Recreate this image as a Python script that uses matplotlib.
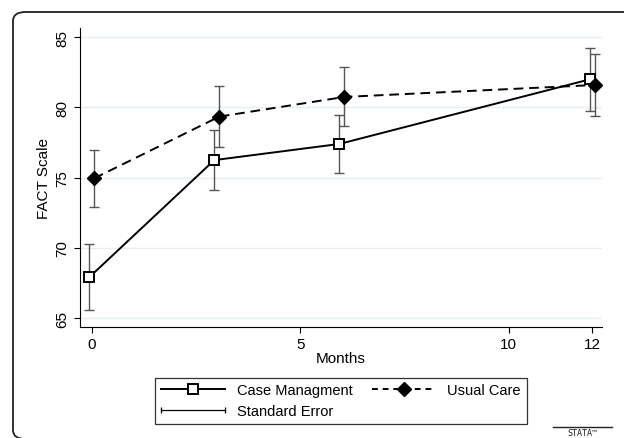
import matplotlib
matplotlib.use('Agg')
from matplotlib import pyplot as plt
from matplotlib.lines import Line2D
from matplotlib.patches import FancyBboxPatch
from matplotlib.legend_handler import HandlerLine2D

plt.rcParams['font.family'] = ['Liberation Sans', 'DejaVu Sans']

# data
months = [0, 3, 6, 12]
case_mean = [67.9, 76.25, 77.4, 82.0]
case_se = [2.35, 2.15, 2.05, 2.25]
usual_mean = [74.95, 79.35, 80.75, 81.6]
usual_se = [2.05, 2.2, 2.1, 2.2]
offset = 0.06  # small horizontal dodge between groups

case_x = [m - offset for m in months]
usual_x = [m + offset for m in months]

fig = plt.figure(figsize=(6.24, 4.39), dpi=100)

# outer rounded frame (stata graph region), cut off at right and bottom
frame = FancyBboxPatch((13 / 624, 1 - 440 / 439), 700 / 624, 427 / 439,
                       boxstyle='round,pad=0,rounding_size=0.02',
                       transform=fig.transFigure, facecolor='none',
                       edgecolor='#222222', linewidth=1.3)
fig.patches.append(frame)

ax = fig.add_axes([80 / 624, 111 / 439, 521.7 / 624, 298.7 / 439])

# error bars
ax.errorbar(case_x, case_mean, yerr=case_se, fmt='none', ecolor='#555555',
            elinewidth=1, capsize=3.5, capthick=1, zorder=2)
ax.errorbar(usual_x, usual_mean, yerr=usual_se, fmt='none', ecolor='#555555',
            elinewidth=1, capsize=3.5, capthick=1, zorder=2)

# lines
ax.plot(case_x, case_mean, color='black', lw=1.4, marker='s', markersize=7.5,
        markerfacecolor='white', markeredgecolor='black', markeredgewidth=1.4, zorder=3)
ax.plot(usual_x, usual_mean, color='black', lw=1.4, ls=(0, (5, 3)), marker='D',
        markersize=7.5, markerfacecolor='black', markeredgecolor='black', zorder=3)

ax.set_xlim(-0.28, 12.23)
ax.set_ylim(64.36, 85.64)
ax.set_xticks([0, 5, 10, 12])
ax.set_yticks([65, 70, 75, 80, 85])
for lab in ax.get_yticklabels():
    lab.set_rotation(90)
    lab.set_va('center')
ax.tick_params(labelsize=11, length=4, width=0.8)

ax.set_xlabel('Months', fontsize=11, labelpad=0)
ax.set_ylabel('FACT Scale', fontsize=11, labelpad=3)

ax.grid(axis='y', color='#e6eff0', lw=1)
ax.set_axisbelow(True)
ax.spines['top'].set_visible(False)
ax.spines['right'].set_visible(False)

# legend
h_case = Line2D([], [], color='black', lw=1.4, marker='s', markersize=7.5,
                markerfacecolor='white', markeredgecolor='black', markeredgewidth=1.4)
h_usual = Line2D([], [], color='black', lw=1.4, ls=(0, (3, 2.5)), marker='D',
                 markersize=7.5, markerfacecolor='black')
h_se = Line2D([], [], color='black', lw=0.9, marker='|', markersize=5, markeredgewidth=0.9)

leg = fig.legend([h_case, h_se, h_usual], ['Case Managment', 'Standard Error', 'Usual Care'],
                 ncol=2, loc='center', bbox_to_anchor=(341 / 624, 1 - 401.7 / 439),
                 fontsize=10.5, handlelength=4.4, fancybox=False, frameon=True,
                 edgecolor='black', borderpad=0.4, labelspacing=0.45, columnspacing=1.3,
                 handletextpad=0.8,
                 handler_map={h_se: HandlerLine2D(numpoints=2, marker_pad=0),
                              h_case: HandlerLine2D(numpoints=1),
                              h_usual: HandlerLine2D(numpoints=1)})
leg.get_frame().set_linewidth(0.9)

# stata logo at bottom right
fig.add_artist(Line2D([553 / 624, 612 / 624], [1 - 428 / 439, 1 - 428 / 439],
                      transform=fig.transFigure, color='#222222', lw=1))
fig.text(582 / 624, 1 - 429.5 / 439, 'STATA\u2122', ha='center', va='top',
         fontsize=6, family='DejaVu Sans Mono', color='#222222')

plt.savefig('out.png', dpi=100)
